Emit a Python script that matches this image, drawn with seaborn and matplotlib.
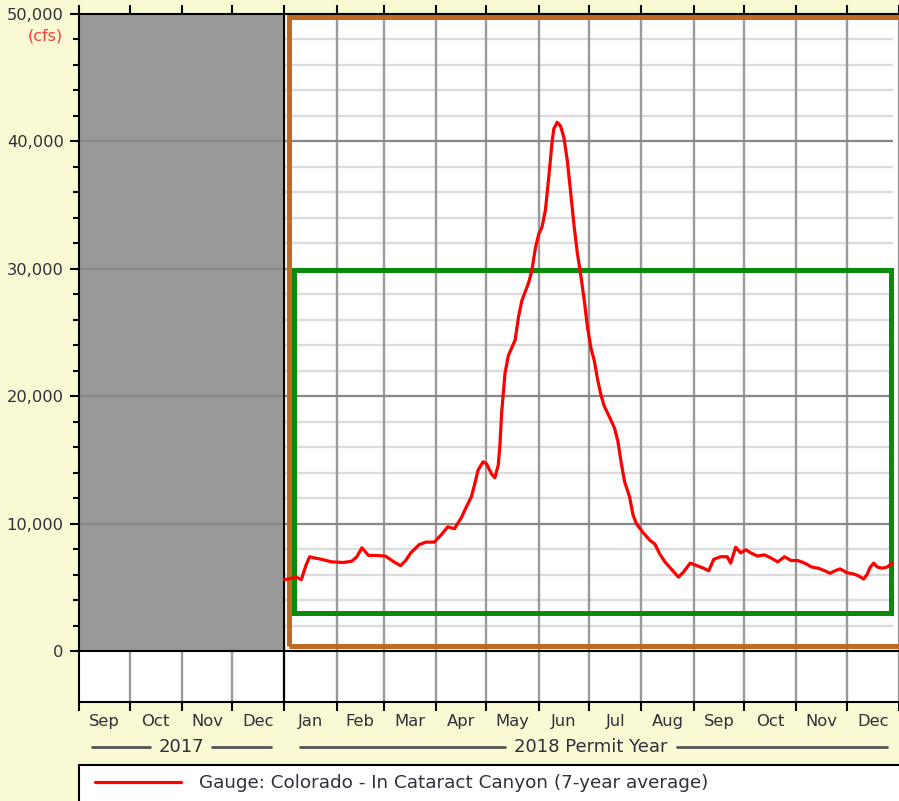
import matplotlib
matplotlib.use("Agg")
import matplotlib.pyplot as plt
import matplotlib.transforms as mtransforms
from matplotlib.patches import Rectangle
from matplotlib.ticker import FuncFormatter
import numpy as np
import pandas as pd
import seaborn as sns

# ---- data ----
# day of 2018 (0 = Jan 1) and 7-year average flow in cfs
days_2018 = [0, 4, 7, 10, 13, 15, 18, 22, 28, 35, 40, 43, 46, 50, 55, 60, 65, 69,
             72, 75, 80, 84, 89, 93, 97, 101, 105, 108, 111, 113, 115, 118, 120,
             123, 125, 127, 128, 129, 131, 133, 135, 137, 139, 141, 143, 145, 147,
             149, 151, 153, 155, 157, 159, 160, 162, 164, 166, 168, 170, 172, 174,
             176, 178, 180, 182, 184, 186, 188, 190, 194, 196, 198, 200, 202, 205,
             207, 209, 213, 217, 220, 223, 226, 230, 234, 237, 241, 245, 249, 252,
             255, 259, 263, 265, 268, 271, 274, 277, 281, 285, 289, 293, 297, 301,
             305, 309, 313, 317, 321, 324, 327, 330, 334, 338, 341, 344, 346, 348,
             350, 352, 355, 358, 361]
flow_cfs = [5600, 5700, 5800, 5600, 6800, 7400, 7300, 7200, 7000, 6950, 7050, 7400,
            8100, 7500, 7500, 7450, 7000, 6700, 7100, 7700, 8350, 8550, 8550, 9100,
            9750, 9600, 10450, 11300, 12100, 13100, 14200, 14850, 14700, 13900,
            13600, 14600, 16200, 18700, 21800, 23200, 23800, 24400, 26200, 27500,
            28200, 28900, 29900, 31600, 32700, 33300, 34600, 37200, 40000, 41000,
            41500, 41200, 40300, 38500, 36000, 33400, 31200, 29500, 27600, 25400,
            23800, 22800, 21300, 20100, 19200, 18100, 17500, 16500, 14800, 13300,
            12100, 10700, 10000, 9300, 8700, 8400, 7600, 7000, 6400, 5800, 6200,
            6900, 6700, 6500, 6300, 7200, 7400, 7400, 6900, 8150, 7700, 7950, 7700,
            7450, 7550, 7300, 7000, 7400, 7100, 7100, 6900, 6600, 6500, 6300, 6100,
            6300, 6450, 6150, 6050, 5900, 5650, 6000, 6600, 6900, 6600, 6500, 6600,
            6900]

month_labels = ["Sep", "Oct", "Nov", "Dec", "Jan", "Feb", "Mar", "Apr", "May", "Jun",
                "Jul", "Aug", "Sep", "Oct", "Nov", "Dec"]
series_label = "Gauge: Colorado - In Cataract Canyon (7-year average)"
unit_label = "(cfs)"
year_2017 = "2017"
year_2018 = "2018 Permit Year"

# permit target band (cfs) and the day of 2018 it starts / ends
target_low, target_high = 3000, 29900
target_start, target_end = 5.9, 360.0

# ---- geometry ----
start = pd.Timestamp("2017-09-01")
bounds = pd.date_range("2017-09-01", "2019-01-01", freq="MS")
month_edges = np.array([(b - start).days for b in bounds])
month_mids = (month_edges[:-1] + month_edges[1:]) / 2
jan1 = (pd.Timestamp("2018-01-01") - start).days

df = pd.DataFrame({"day": np.array(days_2018) + jan1, "flow": flow_cfs})

bg = "#F9F9D3"
txt = "#30303c"

sns.set_style("ticks")
plt.rcParams["font.family"] = ["DejaVu Sans"]

fig = plt.figure(figsize=(8.99, 8.01), dpi=100, facecolor=bg)
ax = fig.add_axes([79 / 899, 99 / 801, 820 / 899, 688 / 801])
ax.set_facecolor("white")

x_max = 483.7
ax.set_xlim(0, x_max)
ax.set_ylim(-4000, 50000)

# grid, drawn by hand so it stays within 0..50,000
minor_vals = [v for v in range(2000, 50000, 2000) if v % 10000]
ax.hlines(minor_vals, 0, x_max, color="#dcdcdc", lw=1.7, zorder=0.5)
ax.vlines(month_edges[1:], -4000, 50000, color="#9a9a9a", lw=1.7, zorder=0.6)
ax.add_patch(Rectangle((0, 0), jan1, 50000, facecolor="#999999", edgecolor="none", zorder=0.7))
ax.hlines([10000, 20000, 30000, 40000], 0, x_max, color="#888888", lw=1.6, zorder=0.8)
ax.axvline(jan1, color="black", lw=1.5, zorder=0.9)
ax.axhline(0, color="black", lw=1.5, zorder=0.9)

# permit year box and target band
ax.add_patch(Rectangle((jan1 + 2.6, 390), 400, 49340, facecolor="none",
                       edgecolor="#BF6A22", lw=3.6, zorder=1.5, clip_on=True))
ax.add_patch(Rectangle((jan1 + target_start, target_low), target_end - target_start,
                       target_high - target_low, facecolor="none",
                       edgecolor="#0B8A0B", lw=3.6, zorder=1.6))

sns.lineplot(data=df, x="day", y="flow", ax=ax, color="#FF0000", lw=2.3,
             label=series_label, legend=False, zorder=3, sort=False)

# axes styling
for s in ["left", "top", "bottom"]:
    ax.spines[s].set_color("black")
    ax.spines[s].set_linewidth(1.5)
ax.spines["right"].set_visible(False)

ax.set_xticks(month_edges)
ax.set_xticks(month_mids, minor=True)
ax.set_xticklabels([], minor=False)
ax.set_xticklabels(month_labels, minor=True)
ax.tick_params(axis="x", which="major", top=True, bottom=True, direction="out",
               length=6.5, width=1.5, color="black")
ax.tick_params(axis="x", which="minor", length=0, pad=8.5, labelsize=11.8, labelcolor=txt)

ax.set_yticks(range(0, 50001, 10000))
ax.set_yticks(minor_vals, minor=True)
ax.yaxis.set_major_formatter(FuncFormatter(lambda v, p: f"{int(v):,}"))
ax.tick_params(axis="y", which="major", direction="out", length=6.5, width=1.5,
               pad=4.5, labelsize=11.7, labelcolor=txt, color="black")
ax.tick_params(axis="y", which="minor", direction="out", length=4.3, width=1.5,
               color="black")
ax.set_xlabel("")
ax.set_ylabel("")

fig.text(63 / 899, 1 - 36 / 801, unit_label, color="#FF3B3B", fontsize=11.5,
         ha="right", va="center")

# year captions with rules on each side
trans = mtransforms.blended_transform_factory(ax.transData, ax.transAxes)
yy = -45 / 688
rule = dict(color="#555555", lw=2, transform=trans, clip_on=False)
ax.text(jan1 / 2, yy, year_2017, transform=trans, ha="center", va="center",
        fontsize=13, color=txt)
ax.plot([8, 42], [yy, yy], **rule)
ax.plot([79, 114], [yy, yy], **rule)
mid18 = jan1 + 182
ax.text(mid18, yy, year_2018, transform=trans, ha="center", va="center",
        fontsize=13, color=txt)
ax.plot([jan1 + 9, mid18 - 51], [yy, yy], **rule)
ax.plot([mid18 + 51, jan1 + 358], [yy, yy], **rule)

# legend panel
fig.patches.append(Rectangle((79 / 899, -0.05), 1.0, 0.05 + 1 - 765 / 801,
                             transform=fig.transFigure, facecolor="white",
                             edgecolor="black", lw=1.5, zorder=0))
handles, labels = ax.get_legend_handles_labels()
fig.legend(handles, labels, loc="center left", bbox_to_anchor=(95 / 899, 1 - 783 / 801),
           bbox_transform=fig.transFigure, frameon=False, fontsize=13.2,
           handlelength=4.7, handletextpad=0.95, borderpad=0, borderaxespad=0,
           labelcolor=txt)

fig.savefig("out.png", dpi=100, facecolor=bg)
